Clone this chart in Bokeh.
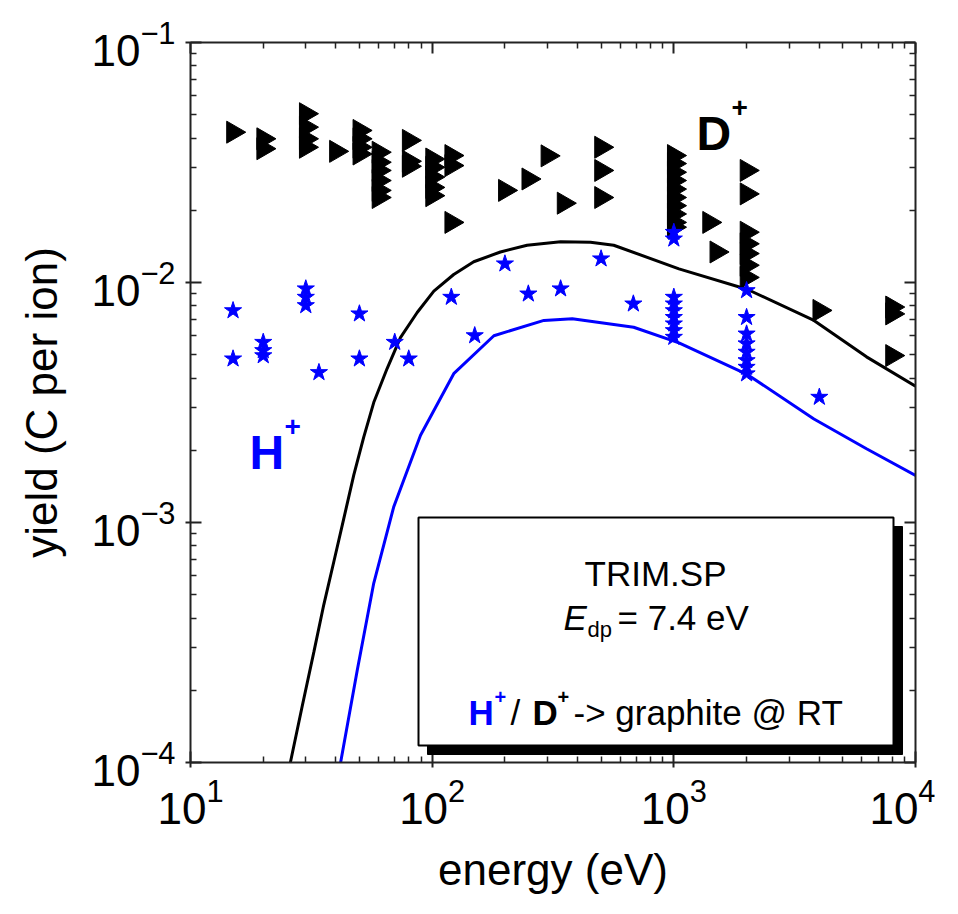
import math
from bokeh.plotting import figure
from bokeh.models import (LogAxis, FixedTicker, LogTickFormatter, CustomJSTickFormatter,
                          BoxAnnotation, Label)
from bokeh.embed import file_html
from bokeh.resources import INLINE

# ---------------- data ----------------
# D+ -> graphite, measured (right triangles)
D_E = [15, 20, 20, 30, 30, 30, 30, 40, 50, 50, 50, 50,
       60, 60, 60, 60, 60, 60, 80, 80, 80,
       100, 100, 100, 100, 100, 120, 120, 120,
       200, 250, 300, 350, 500, 500, 500,
       1000, 1000, 1000, 1000, 1000, 1000, 1000, 1000, 1000, 1000,
       1400, 1500, 2000, 2000, 2000, 2000, 2000, 2000, 2000,
       4000, 8000, 8000, 8000]
D_Y = [0.0423, 0.0397, 0.0361, 0.0505, 0.0444, 0.0397, 0.0366, 0.0352, 0.0430, 0.0397, 0.0366, 0.0343,
       0.0349, 0.0317, 0.0293, 0.0266, 0.0242, 0.0226, 0.0391, 0.0320, 0.0305,
       0.0327, 0.0302, 0.0275, 0.0249, 0.0230, 0.0338, 0.0307, 0.0178,
       0.0242, 0.0270, 0.0337, 0.0214, 0.0366, 0.0293, 0.0226,
       0.0338, 0.0313, 0.0288, 0.0266, 0.0245, 0.0226, 0.0209, 0.0193, 0.0178, 0.0170,
       0.0178, 0.0134, 0.0293, 0.0234, 0.0162, 0.0145, 0.0132, 0.0118, 0.0105,
       0.00765, 0.0079, 0.0074, 0.00496]

# H+ -> graphite, measured (stars)
H_E = [15, 15, 20, 20, 20, 30, 30, 30, 34, 50, 50, 70, 80, 120, 150, 200, 250, 340, 500, 680,
       1000, 1000, 1000, 1000, 1000, 1000, 1000, 1000, 1000,
       2000, 2000, 2000, 2000, 2000, 2000, 2000, 2000, 4000]
H_Y = [0.00764, 0.00481, 0.00564, 0.00521, 0.00496, 0.00942, 0.00869, 0.00802, 0.00422,
       0.00741, 0.00481, 0.00564, 0.00481, 0.00869, 0.00601, 0.01197, 0.00897, 0.00942,
       0.01256, 0.00815,
       0.0162, 0.0152, 0.00869, 0.00815, 0.00764, 0.00716, 0.00673, 0.00631, 0.00592,
       0.00926, 0.00716, 0.00611, 0.00556, 0.00513, 0.00473, 0.00444, 0.00417, 0.00333]

# TRIM.SP calculations (curves)
D_FIT_E = [25.9, 29.0, 32.4, 35.6, 39.2, 43.1, 47.4, 52.1, 57.3, 65.1, 73.9, 86.7, 101.6,
           122.8, 148.6, 191.6, 247, 340, 452, 564, 1050, 2020, 3800, 6270, 10000]
D_FIT_Y = [1.0e-4, 1.72e-4, 2.89e-4, 4.54e-4, 6.88e-4, 1.04e-3, 1.58e-3, 2.27e-3, 3.16e-3,
           4.38e-3, 5.89e-3, 7.5e-3, 9.2e-3, 1.08e-2, 1.22e-2, 1.34e-2, 1.43e-2, 1.48e-2,
           1.47e-2, 1.43e-2, 1.14e-2, 9.35e-3, 6.95e-3, 4.9e-3, 3.7e-3]
H_FIT_E = [41.8, 49.0, 57.3, 69.3, 89.5, 122.8, 180, 290, 380, 682, 1050, 2020, 3800, 6270, 10000]
H_FIT_Y = [1.0e-4, 2.43e-4, 5.58e-4, 1.16e-3, 2.31e-3, 4.17e-3, 6.0e-3, 6.95e-3, 7.06e-3,
           6.51e-3, 5.6e-3, 4.13e-3, 2.7e-3, 2.03e-3, 1.57e-3]

X_MAJOR = [10, 100, 1000, 10000]
X_MINOR = [m * 10 ** k for k in (1, 2, 3) for m in range(2, 10)]
Y_MAJOR = [1e-4, 1e-3, 1e-2, 1e-1]
Y_MINOR = [m * 10 ** k for k in (-4, -3, -2) for m in range(2, 10)]

X_LABEL = "energy (eV)"
Y_LABEL = "yield (C per ion)"

FONT = "Liberation Sans"
BLUE = "#0000ff"

# ---------------- figure ----------------
FL, FT, FW, FH = 190, 42, 725, 720
p = figure(x_axis_type="log", y_axis_type="log",
           x_range=(10, 1e4), y_range=(1e-4, 1e-1),
           frame_width=FW, frame_height=FH,
           min_border_left=FL, min_border_top=FT, min_border_right=20, min_border_bottom=132,
           output_backend="svg", toolbar_location=None)
p.outline_line_color = None
p.grid.visible = False


def ex(px):
    # horizontal page pixel -> energy
    return 10 ** (1 + 3 * (px - FL) / FW)


def ey(py):
    # vertical page pixel -> yield
    return 10 ** (-1 - 3 * (py - FT) / FH)


def style_axis(ax, major, minor, labels=True):
    ax.ticker = FixedTicker(ticks=major, minor_ticks=minor)
    ax.axis_line_color = "#222222"
    ax.axis_line_width = 2
    ax.major_tick_line_color = "#222222"
    ax.major_tick_line_width = 2
    ax.minor_tick_line_color = "#222222"
    ax.minor_tick_line_width = 1.5
    ax.major_tick_in = 11
    ax.minor_tick_in = 6
    ax.minor_tick_out = 0
    if labels:
        ax.formatter = LogTickFormatter()
        ax.major_tick_out = 5
        ax.major_label_text_font = FONT
        ax.major_label_text_font_size = "44px"
        ax.major_label_text_color = "black"
        ax.major_label_standoff = 10
        ax.axis_label_text_font = FONT
        ax.axis_label_text_font_size = "44px"
        ax.axis_label_text_font_style = "normal"
        ax.axis_label_text_color = "black"
        ax.axis_label_standoff = 18
    else:
        ax.formatter = CustomJSTickFormatter(code="return ''")
        ax.major_tick_out = 0
        ax.major_label_text_font_size = "0px"
        ax.major_label_standoff = 0


style_axis(p.xaxis[0], X_MAJOR, X_MINOR)
style_axis(p.yaxis[0], Y_MAJOR, Y_MINOR)
p.xaxis[0].axis_label = X_LABEL
p.yaxis[0].axis_label = Y_LABEL
p.yaxis[0].axis_label_standoff = 22

top_ax = LogAxis()
style_axis(top_ax, X_MAJOR, X_MINOR, labels=False)
p.add_layout(top_ax, "above")
right_ax = LogAxis()
style_axis(right_ax, Y_MAJOR, Y_MINOR, labels=False)
p.add_layout(right_ax, "right")

# ---------------- curves & markers ----------------
p.line(D_FIT_E, D_FIT_Y, line_color="black", line_width=3)
p.line(H_FIT_E, H_FIT_Y, line_color=BLUE, line_width=3)

p.scatter(D_E, D_Y, marker="triangle", size=22, angle=-math.pi / 2,
          fill_color="black", line_color="black")
p.scatter(H_E, H_Y, marker="star", size=18, fill_color=BLUE, line_color=BLUE)

# ---------------- annotation box ----------------
p.add_layout(BoxAnnotation(left=ex(427), right=ex(902), top=ey(526), bottom=ey(754),
                           fill_color="black", fill_alpha=1,
                           line_color="black", line_alpha=1, line_width=1))
p.add_layout(BoxAnnotation(left=ex(418), right=ex(893), top=ey(517), bottom=ey(745),
                           fill_color="white", fill_alpha=1,
                           line_color="black", line_alpha=1, line_width=2))


def lab(text, px, py, size, color="black", style="normal", align="left"):
    p.add_layout(Label(x=ex(px), y=ey(py), text=text, text_font=FONT,
                       text_font_size=f"{size}px", text_color=color,
                       text_font_style=style, text_align=align,
                       text_baseline="alphabetic"))


lab("TRIM.SP", 655, 573, 35, align="center")
lab("E", 563, 617, 35, style="italic")
lab("dp", 587, 629, 22)
lab("= 7.4 eV", 617, 617, 35)
lab("H", 468, 712, 35, color=BLUE, style="bold")
lab("+", 494, 696, 20, color=BLUE, style="bold")
lab("/", 510, 712, 35)
lab("D", 532, 712, 35, style="bold")
lab("+", 557, 696, 20, style="bold")
lab("-> graphite @ RT", 573, 712, 35)

lab("D", 696, 133, 48, style="bold")
lab("+", 731, 107, 28, style="bold")
lab("H", 249, 452, 48, color=BLUE, style="bold")
lab("+", 284, 426, 28, color=BLUE, style="bold")

open("out.html", "w").write(file_html(p, INLINE))
